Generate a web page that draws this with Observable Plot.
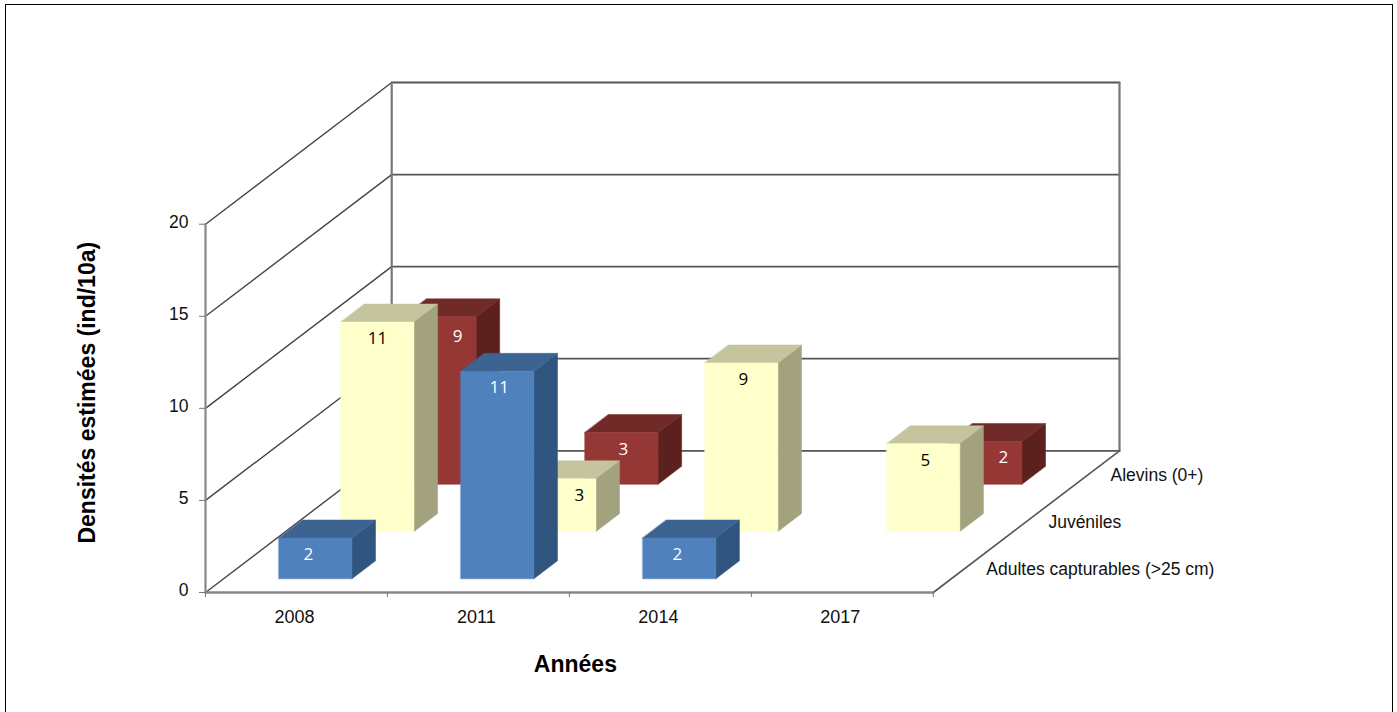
<!DOCTYPE html>
<html><head><meta charset="utf-8">
<script src="https://cdn.jsdelivr.net/npm/d3@7"></script>
<script src="https://cdn.jsdelivr.net/npm/@observablehq/plot@0.6"></script>
<style>
html,body{margin:0;padding:0;background:#fff;overflow:hidden}
#chart{position:absolute;left:0;top:0}
#border{position:absolute;left:5px;top:4px;width:1386px;height:720px;border:1.5px solid #000;box-sizing:content-box}
</style></head><body>
<div id="chart"></div><div id="border"></div>
<script>
// Data
const years = [2008, 2011, 2014, 2017];
const depthLabels = ["Adultes capturables (>25 cm)", "Juvéniles", "Alevins (0+)"];
const adultes = [2.22, 11.27, 2.22, null];
const juveniles = [11.38, 2.87, 9.16, 4.77];
const alevins = [9.1, 2.82, null, 2.33];
const yTicks = [0, 5, 10, 15, 20];
const palette = [
  {front:"#4f81bd", top:"#3d6391", side:"#30567f", label:"#fff"},
  {front:"#ffffcc", top:"#c4c49f", side:"#a2a27f", label:"#000"},
  {front:"#953735", top:"#702a28", side:"#5c201e", label:"#fff"}
];
const seriesByDepth = [adultes, juveniles, alevins];
// hand-moved data labels in the original: horizontal / vertical nudges (px)
const labelNudgeX = [[-7, 2, -2, 0], [0, 20, 2, 2], [18, 2, 0, 18]];
const labelNudgeY = [[0, -1, 0, 0], [0, 0, 0, 0], [3, 0, 0, -1]];

// Oblique projection of (category, depth, value) into the planar x/y scales
const shearX = 62 / 181.75;   // category units per depth unit
const shearY = 47.33 / 18.45; // value units per depth unit
const nCat = years.length, nDepth = depthLabels.length, maxV = 20;
const P = (c, d, v) => ({X: c + d * shearX, Y: v + d * shearY});
const barW = 0.402, barD = 0.38, frontD = 0.29, barC = 0.505;

const path = (id, ...pts) => pts.map(([c, d, v]) => ({id, ...P(c, d, v)}));
const faceMark = (rows, fill) => Plot.line(rows, {x:"X", y:"Y", z:"id", curve:"linear-closed", fill, stroke:fill, strokeWidth:0.5});

const marks = [];
// wall grid
const gridLeft = yTicks.filter(v => v > 0).flatMap(v => path("L" + v, [0, 0, v], [0, nDepth, v]));
const floorLeft = path("F", [0, 0, 0], [0, nDepth, 0]);
marks.push(Plot.line(gridLeft, {x:"X", y:"Y", z:"id", stroke:"#444", strokeWidth:1.4}));
marks.push(Plot.line(floorLeft, {x:"X", y:"Y", z:"id", stroke:"#444", strokeWidth:1.4}));
const gridBack = yTicks.flatMap(v => path("B" + v, [0, nDepth, v], [nCat, nDepth, v]));
marks.push(Plot.line(gridBack, {x:"X", y:"Y", z:"id", stroke:"#555", strokeWidth:1.8}));
marks.push(Plot.line([...path("V1", [0, nDepth, 0], [0, nDepth, maxV]), ...path("V2", [nCat, nDepth, 0], [nCat, nDepth, maxV])],
  {x:"X", y:"Y", z:"id", stroke:"#777", strokeWidth:2.2}));
marks.push(Plot.line(path("R", [nCat, 0, 0], [nCat, nDepth, 0]), {x:"X", y:"Y", stroke:"#555", strokeWidth:1.6}));
marks.push(Plot.line(path("A", [0, 0, 0], [0, 0, maxV]), {x:"X", y:"Y", stroke:"#888", strokeWidth:2.2}));
marks.push(Plot.line(path("Base", [0, 0, 0], [nCat, 0, 0]), {x:"X", y:"Y", stroke:"#888", strokeWidth:2.5}));

// bars, painted back to front
const labels = [];
for (let i = nDepth - 1; i >= 0; i--) {
  const vals = seriesByDepth[i], col = palette[i];
  const d0 = i + frontD, d1 = d0 + barD;
  const tops = [], sides = [], fronts = [];
  vals.forEach((v, c) => {
    if (v == null) return;
    const x0 = c + barC - barW / 2, x1 = c + barC + barW / 2;
    fronts.push(...path("f" + c, [x0, d0, 0], [x1, d0, 0], [x1, d0, v], [x0, d0, v]));
    tops.push(...path("t" + c, [x0, d0, v], [x1, d0, v], [x1, d1, v], [x0, d1, v]));
    sides.push(...path("s" + c, [x1, d0, 0], [x1, d1, 0], [x1, d1, v], [x1, d0, v]));
    labels.push({...P(c + barC, d0, v), text: String(Math.round(v)), color: col.label, nx: labelNudgeX[i][c], ny: labelNudgeY[i][c]});
  });
  marks.push(faceMark(sides, col.side), faceMark(tops, col.top), faceMark(fronts, col.front));
}
// one text mark per label so that each can carry its own nudge
for (const l of labels) {
  marks.push(Plot.text([l], {x:"X", y:"Y", text:"text", fill:l.color, dx:l.nx, dy:17 + l.ny, fontSize:17, fontFamily:"Open Sans"}));
}

// axes and texts
marks.push(Plot.axisY({ticks:yTicks, tickSize:6, tickFormat:() => "", label:null, stroke:"#777"}));
marks.push(Plot.axisY({ticks:yTicks, tickSize:0, tickPadding:17, dy:-2, label:null, fontSize:17.5, fontFamily:"Liberation Sans", fill:"#111"}));
marks.push(Plot.axisX({ticks:d3.range(nCat + 1), tickSize:5, tickFormat:() => "", label:null, stroke:"#777"}));
marks.push(Plot.axisX({ticks:years.map((_, i) => i + 0.5), tickSize:0, tickPadding:18, dx:-2, tickFormat:(t) => String(years[Math.round(t - 0.5)]), label:null, fontSize:18, fontFamily:"Liberation Sans", fill:"#111"}));
marks.push(Plot.text(depthLabels.map((t, i) => ({t, ...P(nCat, i + 0.5, 0)})), {x:"X", y:"Y", text:"t", textAnchor:"start", dx:22, dy:1, fontSize:17.5, fontFamily:"Liberation Sans", fill:"#111"}));
marks.push(Plot.text(["Années"], {x:[nCat / 2], y:[0], dx:6, dy:72, fontSize:23, fontWeight:"bold", fontFamily:"Liberation Sans", fill:"#000"}));
marks.push(Plot.text(["Densités estimées (ind/10a)"], {x:[0], y:[10.85], dx:-118, rotate:-90, fontSize:23, fontWeight:"bold", fontFamily:"Liberation Sans", fill:"#000"}));

const chart = Plot.plot({
  width:1397, height:712,
  marginLeft:205, marginRight:278, marginTop:82, marginBottom:120,
  x:{type:"linear", domain:[0, nCat + nDepth * shearX], axis:null},
  y:{type:"linear", domain:[0, maxV + nDepth * shearY], axis:null},
  style:{background:"transparent", overflow:"visible"},
  marks
});
document.getElementById("chart").appendChild(chart);
</script></body></html>
